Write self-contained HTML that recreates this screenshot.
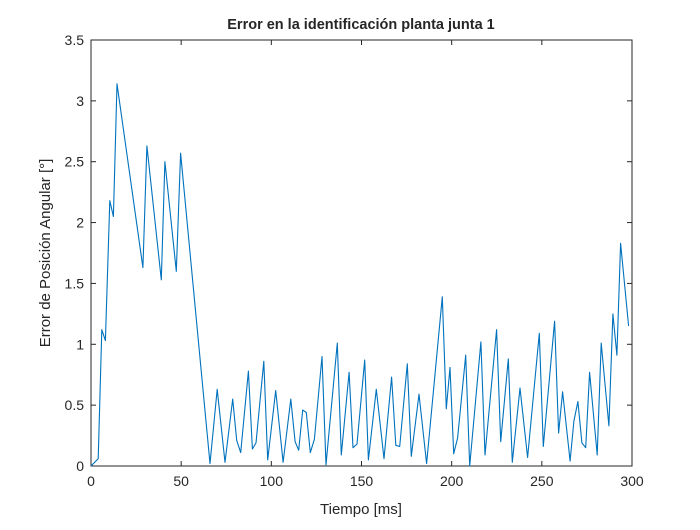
<!DOCTYPE html>
<html><head><meta charset="utf-8"><style>
body{margin:0;background:#fff;width:700px;height:525px;overflow:hidden}
text{font-family:"Liberation Sans",Arial,sans-serif;fill:#262626}
</style></head><body>
<svg id="chart" width="700" height="525" xmlns="http://www.w3.org/2000/svg">
<rect x="0" y="0" width="700" height="525" fill="#fff"/>
<g id="axes"></g>
<text x="361" y="29" text-anchor="middle" font-size="14.5" font-weight="bold" fill="#000">Error en la identificación planta junta 1</text>
<text x="361" y="514" text-anchor="middle" font-size="15">Tiempo [ms]</text>
<text transform="translate(50,253) rotate(-90)" text-anchor="middle" font-size="15">Error de Posición Angular [°]</text>
</svg>
<script>
const xTicks=[0,50,100,150,200,250,300];
const yTicks=[0,0.5,1,1.5,2,2.5,3,3.5];
const yTickLabels=["0","0.5","1","1.5","2","2.5","3","3.5"];
const times=[0,4,6,8,10.4,12.4,14.4,28.8,31,39,41,47.3,49.7,66,70,74.3,78.6,80.8,83,87.3,89.5,91.5,95.8,98,102.4,106.5,110.8,113.2,115.2,117.4,119.4,121.6,123.9,128.1,130.3,136.6,138.8,143.1,145.3,147.5,151.8,153.8,158.2,162.5,166.7,169,171.2,175.4,177.6,181.9,186.1,194.8,197,199.1,201.1,203.3,207.8,210,216.2,218.5,224.9,227.2,231.4,233.6,237.9,242.1,248.6,250.8,257.1,259.3,261.5,265.7,267.8,270,272.2,274.3,276.5,280.7,282.9,287.2,289.4,291.6,293.7,298.1];
const errors=[0,0.06,1.12,1.03,2.18,2.05,3.14,1.63,2.63,1.53,2.50,1.60,2.57,0.02,0.63,0.03,0.55,0.21,0.11,0.78,0.14,0.19,0.86,0.05,0.62,0.03,0.55,0.20,0.13,0.46,0.44,0.11,0.22,0.90,0.01,1.01,0.09,0.77,0.15,0.18,0.87,0.05,0.63,0.06,0.73,0.17,0.16,0.84,0.08,0.59,0.02,1.39,0.47,0.81,0.10,0.23,0.91,0.0,1.02,0.09,1.12,0.20,0.88,0.03,0.64,0.07,1.09,0.16,1.19,0.27,0.61,0.04,0.37,0.53,0.19,0.15,0.77,0.09,1.01,0.33,1.25,0.91,1.83,1.15];
const L=91,R=632,T=40,B=466;
const xs=t=>L+(t-0)/300*(R-L);
const ys=v=>B-v/3.5*(B-T);
const NS="http://www.w3.org/2000/svg";
const g=document.getElementById('axes');
function mk(tag,attrs){const e=document.createElementNS(NS,tag);for(const k in attrs)e.setAttribute(k,attrs[k]);g.appendChild(e);return e;}
const box=mk('rect',{x:L,y:T,width:R-L,height:B-T,fill:'none',stroke:'#262626','stroke-width':1});


xTicks.forEach(t=>{const x=xs(t);
 const a=mk('line',{x1:x,x2:x,y1:B,y2:B-5,stroke:'#262626'});
 
 
 mk('line',{x1:x,x2:x,y1:T,y2:T+5,stroke:'#262626'});
 const tx=mk('text',{x:x,y:B+20,'text-anchor':'middle','font-size':'14'});tx.textContent=t;
 
 
});
yTicks.forEach((v,i)=>{const y=ys(v);
 const a=mk('line',{x1:L,x2:L+5,y1:y,y2:y,stroke:'#262626'});
 
 
 mk('line',{x1:R,x2:R-5,y1:y,y2:y,stroke:'#262626'});
 const tx=mk('text',{x:L-7,y:y+5,'text-anchor':'end','font-size':'14'});tx.textContent=yTickLabels[i];
 
 
});
const pts=times.map((t,i)=>xs(t).toFixed(1)+','+ys(errors[i]).toFixed(1)).join(' ');
const line=mk('polyline',{points:pts,fill:'none',stroke:'#0072BD','stroke-width':1.1,'stroke-linejoin':'round'});


</script>
</body></html>
